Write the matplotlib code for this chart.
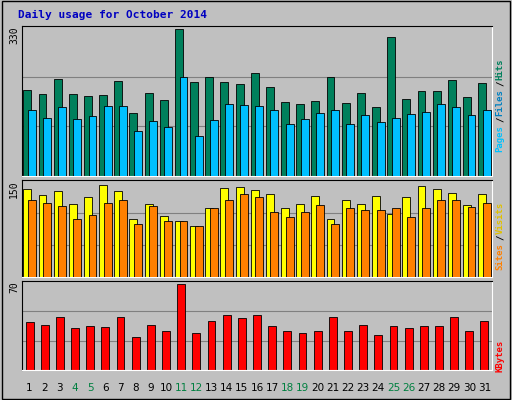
import matplotlib
matplotlib.use("Agg")
import matplotlib.pyplot as plt
import numpy as np

days = list(range(1, 32))
weekends = [4, 5, 11, 12, 18, 19, 25, 26]
hits = [190, 182, 215, 182, 177, 179, 210, 140, 184, 168, 326, 208, 219, 208, 204, 228,
        197, 164, 159, 166, 219, 162, 184, 153, 308, 171, 188, 188, 213, 175, 206]
files = [146, 128, 153, 126, 133, 155, 155, 100, 122, 109, 219, 89, 124, 159, 157, 155,
         146, 115, 126, 140, 146, 115, 135, 120, 128, 137, 142, 159, 153, 135, 146]
visits = [138, 128, 134, 114, 125, 144, 134, 91, 114, 96, 87, 79, 108, 139, 141, 136,
          130, 107, 114, 127, 91, 121, 114, 127, 99, 125, 142, 138, 131, 113, 130]
sites = [121, 116, 111, 91, 97, 116, 121, 83, 111, 87, 87, 79, 107, 121, 130, 125,
         102, 93, 102, 113, 83, 107, 105, 105, 107, 94, 107, 121, 121, 110, 116]
kbytes = [38, 36, 42, 33, 35, 34, 42, 26, 36, 31, 68, 29, 39, 44, 41, 44,
          35, 31, 29, 31, 42, 31, 36, 28, 35, 33, 35, 35, 42, 31, 39]
maxes = [330, 150, 70]

W, H = 512, 400
BG = "#c0c0c0"
MONO = "DejaVu Sans Mono"
fig = plt.figure(figsize=(W / 100, H / 100), dpi=100, facecolor=BG)

def px_axes(x0, y0, x1, y1):
    ax = fig.add_axes([x0 / W, 1 - y1 / H, (x1 - x0) / W, (y1 - y0) / H])
    ax.set_facecolor(BG)
    ax.set_xlim(0.5, 31.5)
    ax.set_xticks([]); ax.set_yticks([])
    for s in ["top", "left"]:
        ax.spines[s].set_color("black")
    for s in ["bottom", "right"]:
        ax.spines[s].set_color("white")
    return ax

x = np.array(days)
w = 0.52
off = 0.15

ax1 = px_axes(22, 26, 492, 176)
ax1.set_ylim(0, maxes[0] * 1.01)
for g in [maxes[0] / 3, 2 * maxes[0] / 3]:
    ax1.axhline(g, color="#808080", lw=0.8, zorder=0)
ax1.bar(x - off, hits, w, color="#00805c", edgecolor="black", lw=0.6, zorder=2)
ax1.bar(x + off, files, w, color="#00c0ff", edgecolor="black", lw=0.6, zorder=3)

ax2 = px_axes(22, 180, 492, 277)
ax2.set_ylim(0, maxes[1] * 1.01)
for g in [maxes[1] / 3, 2 * maxes[1] / 3]:
    ax2.axhline(g, color="#808080", lw=0.8, zorder=0)
ax2.bar(x - off, visits, w, color="#ffff00", edgecolor="black", lw=0.6, zorder=2)
ax2.bar(x + off, sites, w, color="#ff8000", edgecolor="black", lw=0.6, zorder=3)

ax3 = px_axes(22, 281, 492, 370)
ax3.set_ylim(0, maxes[2] * 1.01)
for g in [maxes[2] / 3, 2 * maxes[2] / 3]:
    ax3.axhline(g, color="#808080", lw=0.8, zorder=0)
ax3.bar(x, kbytes, w, color="#ff0000", edgecolor="black", lw=0.6, zorder=2)

# frame
fig.patches.append(plt.Rectangle((0.003, 0.003), 0.994, 0.994, transform=fig.transFigure,
                                 fill=False, edgecolor="black", lw=1))

fig.text(18 / W, 1 - 15 / H, "Daily usage for October 2014", color="#0000c0",
         fontsize=8, fontweight="bold", family=MONO, va="center")

for ytop, m in zip([26, 180, 281], maxes):
    fig.text(14 / W, 1 - ytop / H, str(m), rotation=90, fontsize=7, family=MONO,
             va="top", ha="center")

for d in days:
    xp = 22 + (d - 0.5) * 470 / 31
    fig.text(xp / W, 1 - 388 / H, str(d), fontsize=7.5, family="DejaVu Sans",
             ha="center", va="center", color="#008040" if d in weekends else "black")

def right_label(parts, ybottom):
    y = ybottom
    for txt, col in parts:
        fig.text(500 / W, 1 - y / H, txt, rotation=90, fontsize=6.5, family=MONO,
                 color=col, ha="center", va="bottom", fontweight="bold")
        y -= len(txt) * 6.0

right_label([("Pages", "#00c0ff"), ("/", "black"), ("Files", "#0080c0"),
             ("/", "black"), ("Hits", "#00805c")], 152)
right_label([("Sites", "#ff8000"), ("/", "black"), ("Visits", "#e0c000")], 270)
right_label([("KBytes", "#ff0000")], 372)

fig.savefig("out.png", dpi=100, facecolor=BG)
